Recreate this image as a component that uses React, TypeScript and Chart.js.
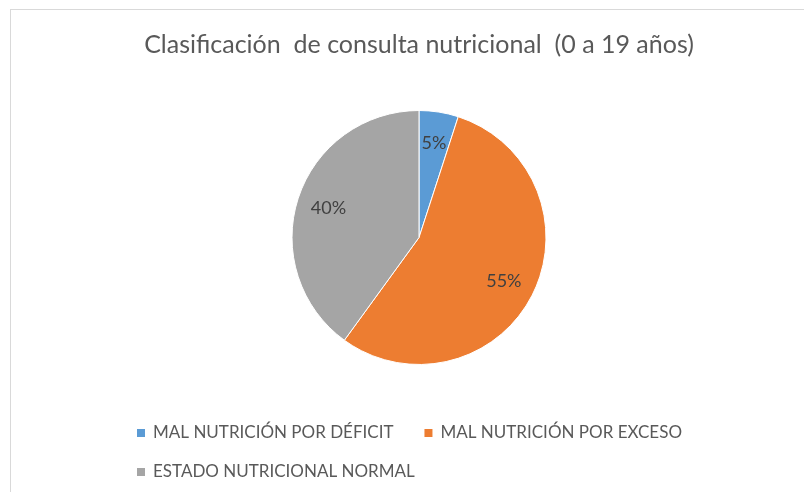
import React, { useEffect, useRef } from "react";
import { Chart, registerables } from "chart.js";

Chart.register(...registerables);

const titleText = "Clasificación  de consulta nutricional  (0 a 19 años)";
const categories = [
  "MAL NUTRICIÓN POR DÉFICIT",
  "MAL NUTRICIÓN POR EXCESO",
  "ESTADO NUTRICIONAL NORMAL",
];
const values = [5, 55, 40];
const sliceColors = ["#5B9BD5", "#ED7D31", "#A5A5A5"];

const FONT = "Lato, 'Open Sans', sans-serif";

const sliceLabelPlugin = {
  id: "sliceLabels",
  afterDatasetsDraw(chart: any, _args: any, opts: any) {
    const ctx = chart.ctx;
    const meta = chart.getDatasetMeta(0);
    const total = values.reduce((a, b) => a + b, 0);
    ctx.save();
    ctx.font = `${opts.fontSize}px ${FONT}`;
    ctx.fillStyle = opts.color;
    ctx.textAlign = "center";
    ctx.textBaseline = "middle";
    meta.data.forEach((arc: any, i: number) => {
      const p = arc.getProps(["x", "y", "startAngle", "endAngle", "outerRadius"], true);
      const mid = (p.startAngle + p.endAngle) / 2;
      const r = p.outerRadius * opts.radiusFactor;
      const pct = Math.round((values[i] / total) * 100);
      ctx.fillText(`${pct}%`, p.x + Math.cos(mid) * r, p.y + Math.sin(mid) * r);
    });
    ctx.restore();
  },
};

const bottomLegendPlugin = {
  id: "bottomLegend",
  afterDraw(chart: any, _args: any, opts: any) {
    const ctx = chart.ctx;
    const area = chart.chartArea;
    ctx.save();
    ctx.font = `${opts.fontSize}px ${FONT}`;
    ctx.textAlign = "left";
    ctx.textBaseline = "middle";
    let x = opts.left;
    let y = area.bottom + opts.firstRowOffset;
    categories.forEach((label, i) => {
      const w = opts.box + opts.gap + ctx.measureText(label).width;
      if (x > opts.left && x + w > opts.right) {
        x = opts.left;
        y += opts.rowHeight;
      }
      ctx.fillStyle = sliceColors[i];
      ctx.fillRect(x, Math.round(y - opts.box / 2), opts.box, opts.box);
      ctx.fillStyle = opts.color;
      ctx.fillText(label, x + opts.box + opts.gap, y);
      x += w + opts.itemGap;
    });
    ctx.restore();
  },
};

export default function App() {
  const canvasRef = useRef<HTMLCanvasElement | null>(null);

  useEffect(() => {
    document.body.style.overflow = "hidden";
    const canvas = canvasRef.current;
    if (!canvas) return;
    const chart = new Chart(canvas, {
      type: "pie",
      data: {
        labels: categories,
        datasets: [
          {
            data: values,
            backgroundColor: sliceColors,
            borderColor: "#ffffff",
            borderWidth: 1,
          },
        ],
      },
      options: {
        animation: false,
        responsive: true,
        maintainAspectRatio: false,
        events: [],
        layout: { padding: { left: 15, right: 0, top: 0, bottom: 128 } },
        plugins: {
          legend: { display: false },
          tooltip: { enabled: false },
          title: {
            display: true,
            text: titleText,
            color: "#595959",
            font: { family: FONT, size: 25, weight: "normal" },
            padding: { top: 20, bottom: 50 },
          },
          sliceLabels: { fontSize: 18, color: "#404040", radiusFactor: 0.75 },
          bottomLegend: {
            fontSize: 17,
            color: "#595959",
            left: 126,
            right: 709,
            box: 8,
            gap: 8,
            itemGap: 31,
            firstRowOffset: 68,
            rowHeight: 39,
          },
        } as any,
      },
      plugins: [sliceLabelPlugin, bottomLegendPlugin],
    });
    return () => chart.destroy();
  }, []);

  return (
    <div
      style={{
        position: "relative",
        top: 1,
        left: 2,
        width: 801,
        height: 483,
        borderTop: "1px solid #d9d9d9",
        borderLeft: "1px solid #d9d9d9",
        background: "#ffffff",
      }}
    >
      <canvas ref={canvasRef} />
    </div>
  );
}
